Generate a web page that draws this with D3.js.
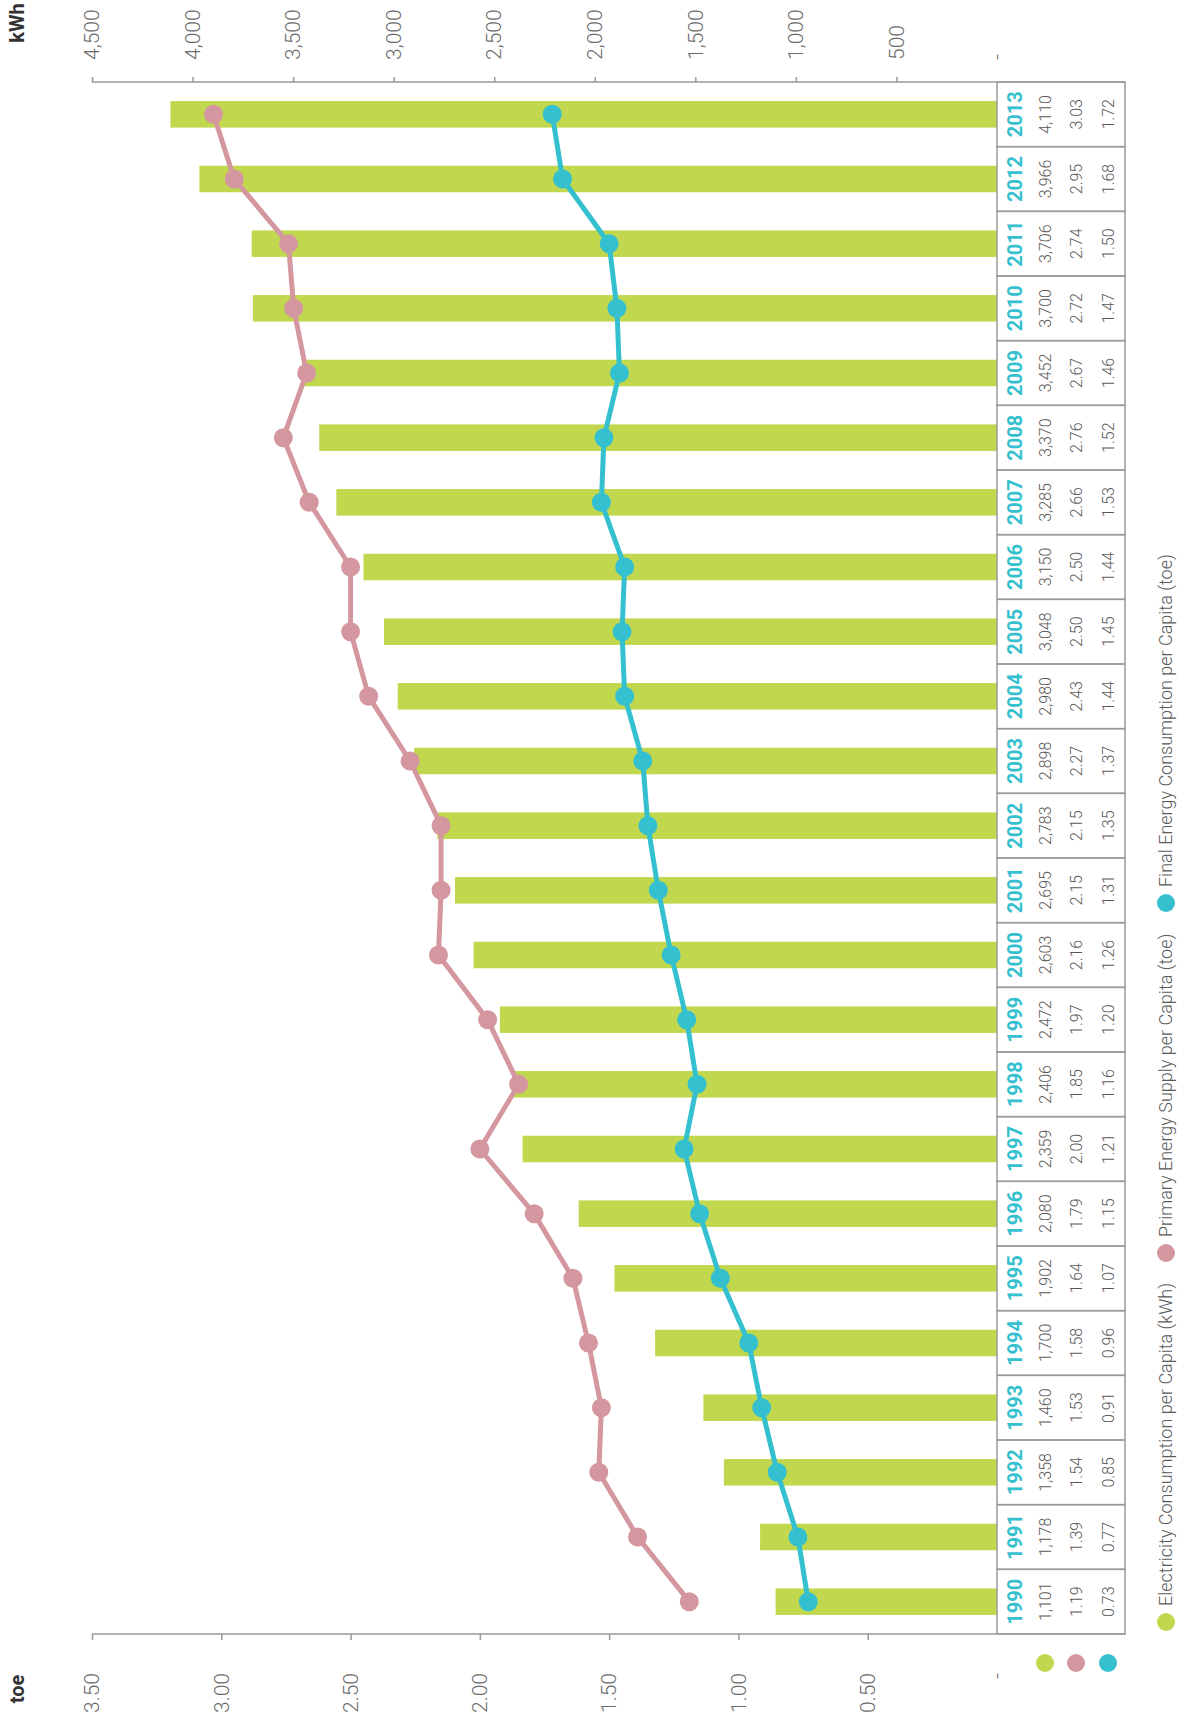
<!DOCTYPE html>
<html>
<head>
<meta charset="utf-8">
<script src="https://cdn.jsdelivr.net/npm/d3@7/dist/d3.min.js"></script>
<style>
  html, body { margin: 0; padding: 0; background: #fff; }
  svg { display: block; font-family: Roboto, "Noto Sans", sans-serif; }
</style>
</head>
<body>
<svg id="chart" width="1184" height="1722"></svg>
<script>
const years = [1990,1991,1992,1993,1994,1995,1996,1997,1998,1999,2000,2001,2002,2003,2004,2005,2006,2007,2008,2009,2010,2011,2012,2013];
const electricityKWh = [1101,1178,1358,1460,1700,1902,2080,2359,2406,2472,2603,2695,2783,2898,2980,3048,3150,3285,3370,3452,3700,3706,3966,4110];
const primarySupplyToe = [1.19,1.39,1.54,1.53,1.58,1.64,1.79,2.00,1.85,1.97,2.16,2.15,2.15,2.27,2.43,2.50,2.50,2.66,2.76,2.67,2.72,2.74,2.95,3.03];
const finalConsumptionToe = [0.73,0.77,0.85,0.91,0.96,1.07,1.15,1.21,1.16,1.20,1.26,1.31,1.35,1.37,1.44,1.45,1.44,1.53,1.52,1.46,1.47,1.50,1.68,1.72];
const toeTicks = [0,0.5,1,1.5,2,2.5,3,3.5];
const kwhTicks = [0,500,1000,1500,2000,2500,3000,3500,4000,4500];
const seriesNames = ["Electricity Consumption per Capita (kWh)","Primary Energy Supply per Capita (toe)","Final Energy Consumption per Capita (toe)"];
const seriesColors = ["#c1d84e","#d4979f","#35c0cf"];

const W = 1184, H = 1722;
const svg = d3.select("#chart");
// Whole chart drawn in an unrotated frame (width H, height W), then rotated -90deg
const g = svg.append("g").attr("transform", `translate(0,${H}) rotate(-90)`);

const zeroY = 997, topY = 92, tableBottom = 1125;
const x = d3.scaleBand().domain(years).range([88, 1640]).padding(0);
const yT = d3.scaleLinear().domain([0, 3.5]).range([zeroY, topY]);
const yK = d3.scaleLinear().domain([0, 4500]).range([zeroY, topY]);
const bw = x.bandwidth();
const barW = bw * 0.41;
const cx = d => x(d) + bw / 2;

// bars
g.append("g").selectAll("rect").data(years).join("rect")
  .attr("x", (d) => cx(d) - barW / 2)
  .attr("y", (d, i) => yK(electricityKWh[i]))
  .attr("width", barW)
  .attr("height", (d, i) => zeroY - yK(electricityKWh[i]))
  .attr("fill", seriesColors[0]);

// table
const tbl = g.append("g");
tbl.selectAll("rect").data(years).join("rect")
  .attr("x", d => x(d)).attr("y", zeroY)
  .attr("width", bw).attr("height", tableBottom - zeroY)
  .attr("fill", "none").attr("stroke", "#9a9a9a").attr("stroke-width", 1.5);
tbl.selectAll("text.yr").data(years).join("text").attr("class", "yr")
  .attr("x", cx).attr("y", 1015).attr("dy", "0.36em")
  .attr("text-anchor", "middle").attr("font-size", 20).attr("font-weight", 700)
  .attr("fill", seriesColors[2]).text(d => d);
const rowsY = [1045, 1076, 1108];
const rowVals = [electricityKWh.map(d3.format(",")), primarySupplyToe.map(d3.format(".2f")), finalConsumptionToe.map(d3.format(".2f"))];
rowVals.forEach((vals, r) => {
  tbl.selectAll("text.r" + r).data(years).join("text").attr("class", "r" + r)
    .attr("x", cx).attr("y", rowsY[r]).attr("dy", "0.36em")
    .attr("text-anchor", "middle").attr("font-size", 16).attr("font-weight", 300)
    .attr("fill", "#5a5a5a").text((d, i) => vals[i]);
});
// row header dots
rowsY.forEach((ry, r) => {
  g.append("circle").attr("cx", 59).attr("cy", ry).attr("r", 9).attr("fill", seriesColors[r]);
});

// axes
const axL = g.append("g").attr("transform", "translate(88,0)")
  .call(d3.axisLeft(yT).tickValues(toeTicks).tickSize(6).tickPadding(33)
    .tickFormat(d => d === 0 ? "-" : d3.format(".2f")(d)));
const axR = g.append("g").attr("transform", "translate(1640,0)")
  .call(d3.axisRight(yK).tickValues(kwhTicks).tickSize(5).tickPadding(17)
    .tickFormat(d => d === 0 ? "-" : d3.format(",")(d)));
[axL, axR].forEach(ax => {
  ax.select(".domain").remove();
  ax.selectAll(".tick line").attr("stroke", "#9a9a9a").attr("stroke-width", 1.5)
    .filter(d => d === 0).remove();
  ax.selectAll(".tick text").attr("font-size", 21).attr("font-weight", 300)
    .attr("fill", "#6a6a6a").attr("font-family", "Roboto, sans-serif");
});
g.append("line").attr("x1", 88).attr("x2", 88).attr("y1", topY).attr("y2", tableBottom)
  .attr("stroke", "#9a9a9a").attr("stroke-width", 1.5);
g.append("line").attr("x1", 1640).attr("x2", 1640).attr("y1", topY).attr("y2", tableBottom)
  .attr("stroke", "#9a9a9a").attr("stroke-width", 1.5);

// axis unit labels
g.append("text").attr("x", 33).attr("y", 17).attr("dy", "0.36em").attr("text-anchor", "middle")
  .attr("font-size", 20).attr("font-weight", 700).attr("fill", "#333").text("toe");
g.append("text").attr("x", 1699).attr("y", 17).attr("dy", "0.36em").attr("text-anchor", "middle")
  .attr("font-size", 20).attr("font-weight", 700).attr("fill", "#333").text("kWh");

// lines
const line = d3.line().x(d => cx(d[0])).y(d => yT(d[1]));
[[primarySupplyToe, seriesColors[1]], [finalConsumptionToe, seriesColors[2]]].forEach(([vals, col]) => {
  const pts = years.map((yr, i) => [yr, vals[i]]);
  g.append("path").datum(pts).attr("d", line).attr("fill", "none")
    .attr("stroke", col).attr("stroke-width", 5).attr("stroke-linejoin", "round");
  g.append("g").selectAll("circle").data(pts).join("circle")
    .attr("cx", d => cx(d[0])).attr("cy", d => yT(d[1])).attr("r", 9.5).attr("fill", col);
});

// legend
const legX = [100, 469, 819];
seriesNames.forEach((name, i) => {
  g.append("circle").attr("cx", legX[i]).attr("cy", 1166).attr("r", 9).attr("fill", seriesColors[i]);
  g.append("text").attr("x", legX[i] + 16).attr("y", 1166).attr("dy", "0.36em")
    .attr("font-size", 18).attr("font-weight", 300).attr("fill", "#5a5a5a").text(name);
});
</script>
</body>
</html>
